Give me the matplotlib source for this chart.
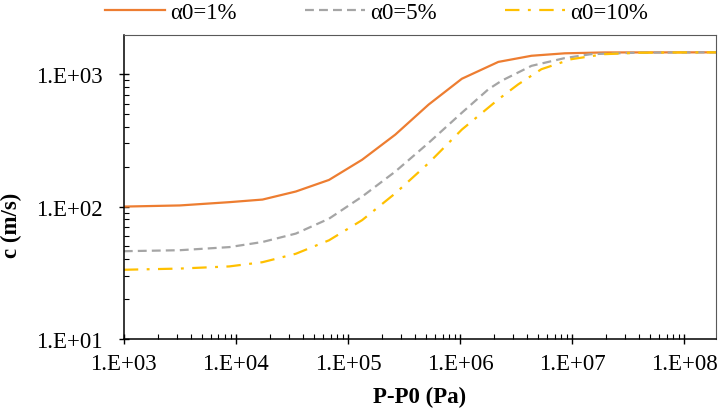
#!/usr/bin/env python3

import numpy as np
import matplotlib.pyplot as plt
from matplotlib.ticker import LogLocator, FuncFormatter, NullFormatter

plt.rcParams['font.family'] = ['Liberation Serif', 'DejaVu Serif']

# pressure difference P-P0 (Pa) and sound speed c (m/s)
dp_1 = [1e3, 3.16e3, 8.75e3, 1.73e4, 3.43e4, 6.78e4, 1.34e5, 2.65e5, 5.25e5,
        1.04e6, 2.2e6, 4.35e6, 8.61e6, 1.95e7, 1.93e8]
c_1 = [100, 102, 108, 113, 130, 159, 226, 350, 590,
       925, 1240, 1380, 1440, 1462, 1465]

dp_5 = [1e3, 3.16e3, 8.75e3, 1.73e4, 3.43e4, 6.78e4, 1.34e5, 2.65e5, 5.25e5,
        1.04e6, 1.79e6, 2.35e6, 4.35e6, 8.61e6, 1.48e7, 4e7, 1.93e8]
c_5 = [46, 46.8, 49.4, 54, 62.5, 81, 119, 184, 303,
       512, 769, 893, 1158, 1325, 1419, 1458, 1465]

dp_10 = [1e3, 3.16e3, 8.75e3, 1.73e4, 3.43e4, 6.78e4, 1.34e5, 2.65e5, 5.25e5,
         1.04e6, 2.2e6, 3.31e6, 5.33e6, 9.86e6, 1.95e7, 4e7, 1e8, 1.93e8]
c_10 = [33.3, 34, 35.3, 38, 44, 55.6, 79, 126, 213,
        382, 646, 839, 1092, 1300, 1419, 1455, 1463, 1465]

fs = 16.5
fig = plt.figure(figsize=(7.24, 4.14), dpi=100)
ax = fig.add_axes([0.171, 0.179, 0.818, 0.734])

ax.plot(dp_1, c_1, color='#ED7D31', lw=1.6, label='α0=1%')
ax.plot(dp_5, c_5, color='#A5A5A5', lw=1.6, dashes=(4, 2.3), label='α0=5%')
ax.plot(dp_10, c_10, color='#FFC000', lw=1.6, dashes=(6.5, 3.8, 1.3, 3.8), label='α0=10%')

ax.set_xscale('log')
ax.set_yscale('log')
ax.set_xlim(1e3, 1.93e8)
ax.set_ylim(1e1, 1.98e3)

fmt = FuncFormatter(lambda v, p: '1.E+%02d' % round(np.log10(v)))
for axis in (ax.xaxis, ax.yaxis):
    axis.set_major_locator(LogLocator(base=10, numticks=12))
    axis.set_minor_locator(LogLocator(base=10, subs=np.arange(2, 10), numticks=12))
    axis.set_major_formatter(fmt)
    axis.set_minor_formatter(NullFormatter())

ax.tick_params(which='major', direction='inout', length=7, width=1.0, labelsize=fs)
ax.tick_params(axis='x', which='major', pad=6.5)
ax.tick_params(axis='y', which='major', pad=11.5)
ax.tick_params(which='minor', direction='in', length=3.6, width=0.8)

for s in ('left', 'bottom'):
    ax.spines[s].set_color('black')
    ax.spines[s].set_linewidth(1.1)
for s in ('top', 'right'):
    ax.spines[s].set_color('#595959')
    ax.spines[s].set_linewidth(0.8)

ax.set_xlabel('P-P0 (Pa)', fontsize=fs, fontweight='bold')
ax.xaxis.set_label_coords(0.5, -0.155)
ax.set_ylabel('c (m/s)', fontsize=fs, fontweight='bold')
ax.yaxis.set_label_coords(-0.172, 0.378)

fig.legend(loc='center', bbox_to_anchor=(0.52, 0.968), ncol=3, frameon=False,
           fontsize=fs, handlelength=2.6, handletextpad=0.22, columnspacing=3.0)

plt.savefig('out.png', dpi=100)
